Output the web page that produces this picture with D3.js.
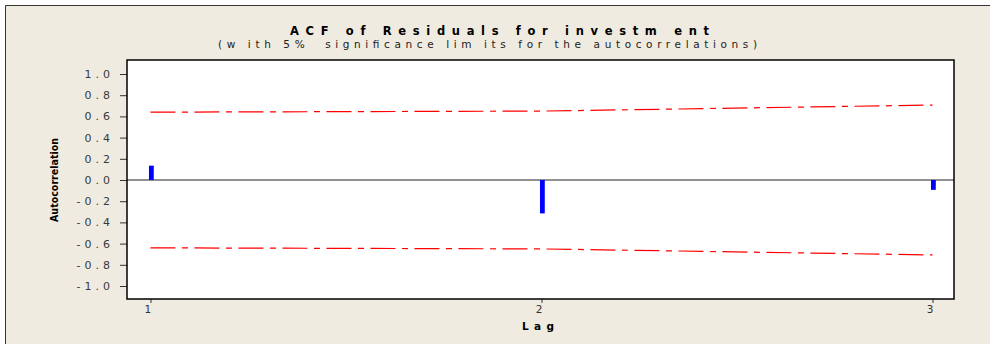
<!DOCTYPE html>
<html>
<head>
<meta charset="utf-8">
<script src="https://cdn.jsdelivr.net/npm/d3@7"></script>
<style>
  html, body { margin: 0; padding: 0; background: #ffffff; }
  svg { display: block; }
  text { white-space: pre; }
</style>
</head>
<body>
<svg id="chart" width="990" height="344"></svg>
<script>
// data
const lags = [1, 2, 3];
const acf_values = [0.135, -0.315, -0.093];
const upper_limits = [0.64, 0.65, 0.707];
const lower_limits = [-0.64, -0.65, -0.707];
const y_ticks = [1.0, 0.8, 0.6, 0.4, 0.2, 0.0, -0.2, -0.4, -0.6, -0.8, -1.0];
const x_ticks = [1, 2, 3];

const width = 990;
const height = 344;
const plot = { left: 127, right: 954, top: 60, bottom: 299 };

const svg = d3.select('#chart');

// frame
svg.append('rect')
  .attr('x', 5).attr('y', 5)
  .attr('width', width - 5).attr('height', height - 5)
  .attr('fill', '#efebe0');
svg.append('path')
  .attr('d', `M5.5,${height} V5.5 H${width}`)
  .attr('fill', 'none')
  .attr('stroke', '#333333')
  .attr('stroke-width', 1);

// titles (stretched with textLength to match the spaced-out look)
svg.append('text')
  .attr('x', 290).attr('y', 34.5)
  .attr('textLength', 419)
  .attr('lengthAdjust', 'spacing')
  .attr('font-family', 'DejaVu Sans')
  .attr('font-weight', 'bold')
  .attr('font-size', 11.5)
  .attr('fill', '#000')
  .text('ACF of Residuals for investm ent');

svg.append('text')
  .attr('x', 218).attr('y', 48)
  .attr('textLength', 539)
  .attr('lengthAdjust', 'spacing')
  .attr('font-family', 'DejaVu Sans')
  .attr('font-size', 10.5)
  .attr('fill', '#222')
  .text('(w ith 5%  significance lim its for the autocorrelations)');

// scales
const x = d3.scaleLinear()
  .domain([0.94, 3.055])
  .range([plot.left, plot.right]);
const y = d3.scaleLinear()
  .domain([-1.0, 1.0])
  .range([286, 74]);

// plot area
svg.append('rect')
  .attr('x', plot.left).attr('y', plot.top)
  .attr('width', plot.right - plot.left)
  .attr('height', plot.bottom - plot.top)
  .attr('fill', '#ffffff');

// y axis
const y_axis = d3.axisLeft(y)
  .tickValues(y_ticks)
  .tickSize(7)
  .tickPadding(6)
  .tickFormat(d => d3.format('.1f')(d).replace('−', '-'));
const y_g = svg.append('g')
  .attr('transform', `translate(${plot.left},0)`)
  .call(y_axis);
y_g.select('.domain').remove();
y_g.selectAll('.tick line').attr('stroke', '#333');
y_g.selectAll('.tick text')
  .attr('font-family', 'DejaVu Sans')
  .attr('font-size', 11)
  .attr('letter-spacing', 4)
  .attr('fill', '#3a3a3a');

// x axis
const x_axis = d3.axisBottom(x)
  .tickValues(x_ticks)
  .tickSize(4)
  .tickPadding(3)
  .tickFormat(d3.format('d'));
const x_g = svg.append('g')
  .attr('transform', `translate(0,${plot.bottom})`)
  .call(x_axis);
x_g.select('.domain').remove();
x_g.selectAll('.tick line').attr('stroke', '#333');
x_g.selectAll('.tick text')
  .attr('font-family', 'DejaVu Sans')
  .attr('font-size', 10.5)
  .attr('fill', '#333')
  .attr('dx', -3);

// axis titles
svg.append('text')
  .attr('x', 522).attr('y', 330)
  .attr('textLength', 32)
  .attr('lengthAdjust', 'spacing')
  .attr('font-family', 'DejaVu Sans')
  .attr('font-weight', 'bold')
  .attr('font-size', 10.5)
  .attr('fill', '#000')
  .text('Lag');

svg.append('text')
  .attr('transform', `translate(58,${y(0)}) rotate(-90)`)
  .attr('text-anchor', 'middle')
  .attr('textLength', 84)
  .attr('lengthAdjust', 'spacingAndGlyphs')
  .attr('font-family', 'DejaVu Sans')
  .attr('font-weight', 'bold')
  .attr('font-size', 10.5)
  .attr('fill', '#000')
  .text('Autocorrelation');

// zero line
svg.append('line')
  .attr('x1', plot.left).attr('x2', plot.right)
  .attr('y1', y(0)).attr('y2', y(0))
  .attr('stroke', '#222')
  .attr('stroke-width', 1);

// significance limits
const limit_line = d3.line()
  .x((d, i) => x(lags[i]))
  .y(d => y(d));
[upper_limits, lower_limits].forEach(limits => {
  svg.append('path')
    .datum(limits)
    .attr('d', limit_line)
    .attr('fill', 'none')
    .attr('stroke', '#ff0000')
    .attr('stroke-width', 1.2)
    .attr('stroke-dasharray', '25,6.5,6,6.5');
});

// acf bars
svg.append('g')
  .selectAll('rect')
  .data(acf_values)
  .enter()
  .append('rect')
  .attr('x', (d, i) => x(lags[i]) - 1.5)
  .attr('width', 4.8)
  .attr('y', d => Math.min(y(d), y(0)))
  .attr('height', d => Math.abs(y(d) - y(0)))
  .attr('fill', '#0000ff');

// plot border
svg.append('rect')
  .attr('x', plot.left).attr('y', plot.top)
  .attr('width', plot.right - plot.left)
  .attr('height', plot.bottom - plot.top)
  .attr('fill', 'none')
  .attr('stroke', '#000')
  .attr('stroke-width', 1.5);
</script>
</body>
</html>
